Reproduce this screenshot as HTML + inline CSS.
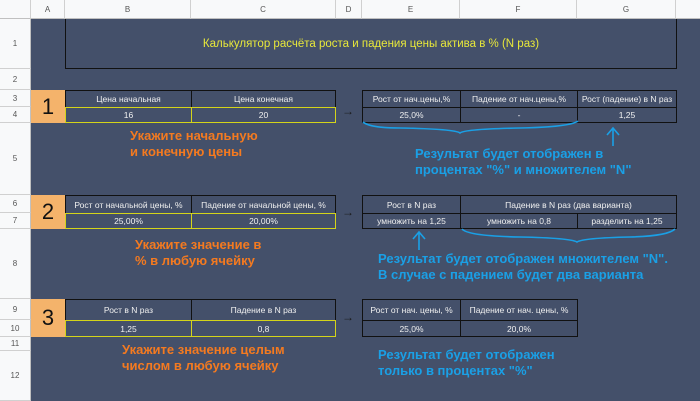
<!DOCTYPE html>
<html><head><meta charset="utf-8"><style>
body{margin:0;width:700px;height:401px;overflow:hidden;background:#fff;font-family:"Liberation Sans","DejaVu Sans",sans-serif;position:relative}
.a{position:absolute;box-sizing:border-box}
.hd{background:#f8f9fa;color:#555;font-size:8px;display:flex;align-items:center;justify-content:center;border-right:1px solid #d0d0d0;border-bottom:1px solid #c0c0c0}
.rn{background:#f8f9fa;color:#555;font-size:8px;display:flex;align-items:center;justify-content:center;border-bottom:1px solid #d0d0d0;border-right:1px solid #c0c0c0}
.c{border:1px solid #111;color:#f0f0f0;font-size:8.5px;display:flex;align-items:center;justify-content:center;white-space:nowrap}
.y{border:1px solid #d4d41a}
.num{background:#f4b36b;color:#111;font-size:22px;display:flex;align-items:center;justify-content:center}
.or{color:#f47a20;font-weight:bold;font-size:13px;line-height:16px}
.bl{color:#1aa0e6;font-weight:bold;font-size:13px;line-height:16px}
.ar{color:#1a1a1a;font-size:12px;font-weight:bold}
</style></head><body>
<div class="a" style="left:31px;top:19px;width:669px;height:382px;background:#44506a"></div>
<div class="a hd" style="left:0;top:0;width:31px;height:19px"></div>
<div class="a hd" style="left:31px;top:0;width:34px;height:19px">A</div>
<div class="a hd" style="left:65px;top:0;width:126px;height:19px">B</div>
<div class="a hd" style="left:191px;top:0;width:145px;height:19px">C</div>
<div class="a hd" style="left:336px;top:0;width:26px;height:19px">D</div>
<div class="a hd" style="left:362px;top:0;width:98px;height:19px">E</div>
<div class="a hd" style="left:460px;top:0;width:117px;height:19px">F</div>
<div class="a hd" style="left:577px;top:0;width:99px;height:19px">G</div>
<div class="a hd" style="left:676px;top:0;width:24px;height:19px;border-right:none"></div>
<div class="a rn" style="left:0;top:19px;width:31px;height:50px">1</div>
<div class="a rn" style="left:0;top:69px;width:31px;height:21px">2</div>
<div class="a rn" style="left:0;top:90px;width:31px;height:17px">3</div>
<div class="a rn" style="left:0;top:107px;width:31px;height:16px">4</div>
<div class="a rn" style="left:0;top:123px;width:31px;height:72px">5</div>
<div class="a rn" style="left:0;top:195px;width:31px;height:18px">6</div>
<div class="a rn" style="left:0;top:213px;width:31px;height:16px">7</div>
<div class="a rn" style="left:0;top:229px;width:31px;height:70px">8</div>
<div class="a rn" style="left:0;top:299px;width:31px;height:21px">9</div>
<div class="a rn" style="left:0;top:320px;width:31px;height:17px">10</div>
<div class="a rn" style="left:0;top:337px;width:31px;height:14px">11</div>
<div class="a rn" style="left:0;top:351px;width:31px;height:50px">12</div>
<div class="a" style="left:65px;top:19px;width:612px;height:50px;border:1px solid #111;border-top:none;color:#e8e83a;font-size:11.5px;display:flex;align-items:center;justify-content:center">Калькулятор расчёта роста и падения цены актива в % (N раз)</div>
<div class="a num" style="left:31px;top:90px;width:34px;height:33px">1</div>
<div class="a c" style="left:65px;top:90px;width:127px;height:18px">Цена начальная</div>
<div class="a c" style="left:191px;top:90px;width:145px;height:18px">Цена конечная</div>
<div class="a c y" style="left:65px;top:107px;width:127px;height:16px">16</div>
<div class="a c y" style="left:191px;top:107px;width:145px;height:16px">20</div>
<div class="a ar" style="left:342px;top:104px">→</div>
<div class="a c" style="left:362px;top:90px;width:99px;height:18px">Рост от нач.цены,%</div>
<div class="a c" style="left:460px;top:90px;width:118px;height:18px">Падение от нач.цены,%</div>
<div class="a c" style="left:577px;top:90px;width:100px;height:18px">Рост (падение) в N раз</div>
<div class="a c" style="left:362px;top:107px;width:99px;height:16px">25,0%</div>
<div class="a c" style="left:460px;top:107px;width:118px;height:16px">-</div>
<div class="a c" style="left:577px;top:107px;width:100px;height:16px">1,25</div>
<div class="a or" style="left:130px;top:128px">Укажите начальную<br>и конечную цены</div>
<div class="a bl" style="left:415px;top:146px">Результат будет отображен в<br>процентах "%" и множителем "N"</div>
<div class="a num" style="left:31px;top:195px;width:34px;height:34px">2</div>
<div class="a c" style="left:65px;top:195px;width:127px;height:19px">Рост от начальной цены, %</div>
<div class="a c" style="left:191px;top:195px;width:145px;height:19px">Падение от начальной цены, %</div>
<div class="a c y" style="left:65px;top:213px;width:127px;height:16px">25,00%</div>
<div class="a c y" style="left:191px;top:213px;width:145px;height:16px">20,00%</div>
<div class="a ar" style="left:342px;top:205px">→</div>
<div class="a c" style="left:362px;top:195px;width:99px;height:19px">Рост в N раз</div>
<div class="a c" style="left:460px;top:195px;width:217px;height:19px">Падение в N раз (два варианта)</div>
<div class="a c" style="left:362px;top:213px;width:99px;height:16px">умножить на 1,25</div>
<div class="a c" style="left:460px;top:213px;width:118px;height:16px">умножить на 0,8</div>
<div class="a c" style="left:577px;top:213px;width:100px;height:16px">разделить на 1,25</div>
<div class="a or" style="left:135px;top:237px">Укажите значение в<br>% в любую ячейку</div>
<div class="a bl" style="left:378px;top:251px">Результат будет отображен множителем "N".<br>В случае с падением будет два варианта</div>
<div class="a num" style="left:31px;top:299px;width:34px;height:38px">3</div>
<div class="a c" style="left:65px;top:299px;width:127px;height:22px">Рост в N раз</div>
<div class="a c" style="left:191px;top:299px;width:145px;height:22px">Падение в N раз</div>
<div class="a c y" style="left:65px;top:320px;width:127px;height:17px">1,25</div>
<div class="a c y" style="left:191px;top:320px;width:145px;height:17px">0,8</div>
<div class="a ar" style="left:342px;top:310px">→</div>
<div class="a c" style="left:362px;top:299px;width:99px;height:22px">Рост от нач. цены, %</div>
<div class="a c" style="left:460px;top:299px;width:118px;height:22px">Падение от нач. цены, %</div>
<div class="a c" style="left:362px;top:320px;width:99px;height:17px">25,0%</div>
<div class="a c" style="left:460px;top:320px;width:118px;height:17px">20,0%</div>
<div class="a or" style="left:122px;top:342px">Укажите значение целым<br>числом в любую ячейку</div>
<div class="a bl" style="left:378px;top:347px">Результат будет отображен<br>только в процентах "%"</div>
<svg class="a" style="left:0;top:0" width="700" height="401" fill="none" stroke="#1aa0e6" stroke-width="1.6">
<path d="M363 122 Q370 128 400 128 Q455 129 460 133 Q465 129 520 128 Q570 127 578 121"/>
<path d="M613 146 L613 129 M607 135 L613 128 L619 135"/>
<path d="M462 229 Q468 236 520 237 Q570 238 577 242 Q583 238 630 237 Q668 236 675 229"/>
<path d="M419 250 L419 233 M413 239 L419 232 L425 239"/>
</svg>
</body></html>
